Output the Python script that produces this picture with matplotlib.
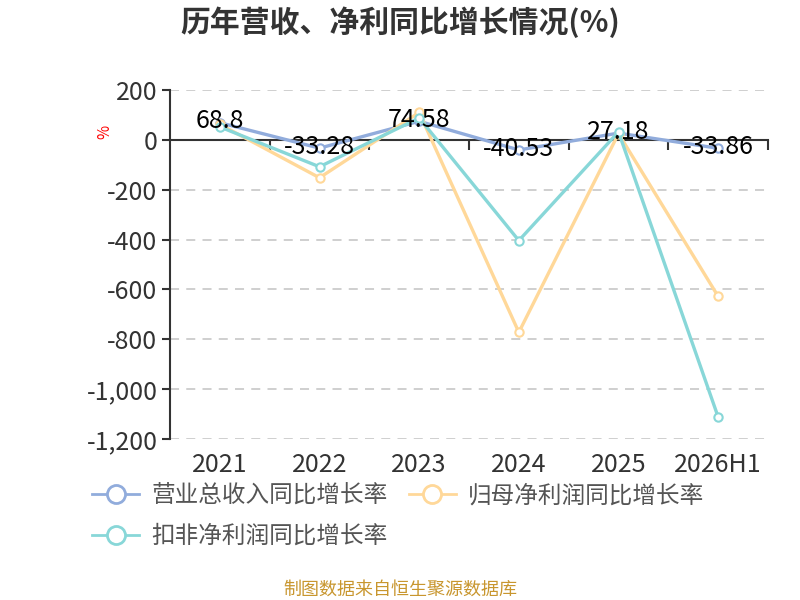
import numpy as np
import matplotlib
matplotlib.use('Agg')
import matplotlib.pyplot as plt
from matplotlib.lines import Line2D
from matplotlib.ticker import FuncFormatter
import matplotlib.transforms as mtransforms

plt.rcParams['font.family'] = ['Noto Sans CJK SC', 'DejaVu Sans']

# data
years = ['2021', '2022', '2023', '2024', '2025', '2026H1']
revenue = [68.8, -33.28, 74.58, -40.53, 27.18, -33.86]
net_profit = [62, -152, 110, -772, 25, -628]
deducted = [52, -108, 88, -404, 32, -1112]
revenue_labels = ['68.8', '-33.28', '74.58', '-40.53', '27.18', '-33.86']

series_names = ['营业总收入同比增长率', '归母净利润同比增长率', '扣非净利润同比增长率']
colors = ['#91ACDC', '#FFD899', '#88D7D8']

fig = plt.figure(figsize=(8, 6), dpi=100)
ax = fig.add_axes([170 / 800, 1 - 439 / 600, 598 / 800, 349 / 600])

x = np.arange(len(years))
for vals, c in zip([revenue, net_profit, deducted], colors):
    ax.plot(x, vals, color=c, lw=2.4, marker='o', markersize=6,
            markerfacecolor='white', markeredgecolor=c, markeredgewidth=1.5, zorder=3)

for xi, v, lab in zip(x, revenue, revenue_labels):
    ax.annotate(lab, (xi, v), xytext=(0, 1), textcoords='offset points',
                ha='center', va='center', fontsize=18, color='#000000', zorder=5)

ax.set_xlim(-0.5, len(years) - 0.5)
ax.set_ylim(-1200, 200)
ax.set_yticks(np.arange(-1200, 201, 200))
ax.yaxis.set_major_formatter(FuncFormatter(lambda v, p: f'{int(v):,}'))
ax.tick_params(axis='y', direction='out', length=6, width=1.5, color='#333333',
               labelsize=18, labelcolor='#333333', pad=3)

for yv in np.arange(-1200, 201, 200):
    if yv != 0:
        ax.axhline(yv, color='#CCCCCC', lw=1.3, ls=(0, (5, 4)), zorder=1)

for s in ['top', 'right']:
    ax.spines[s].set_visible(False)
ax.spines['left'].set_color('#333333')
ax.spines['left'].set_linewidth(1.5)
ax.spines['bottom'].set_position(('data', 0))
ax.spines['bottom'].set_color('#333333')
ax.spines['bottom'].set_linewidth(1.5)
ax.spines['bottom'].set_zorder(2)

ax.set_xticks(np.arange(0.5, len(years), 1.0))
ax.set_xticklabels([])
ax.tick_params(axis='x', direction='out', length=7, width=1.5, color='#333333')

trans = mtransforms.blended_transform_factory(ax.transData, ax.transAxes)
for xi, yr in zip(x, years):
    ax.text(xi, -0.075, yr, transform=trans, ha='center', va='center',
            fontsize=18, color='#333333')

ax.text(-0.109, 0.88, '%', transform=ax.transAxes, rotation=90, color='#FF0000',
        fontsize=11, ha='center', va='center')

fig.text(0.5, 1 - 22 / 600, '历年营收、净利同比增长情况(%)', ha='center', va='center',
         fontsize=21.5, fontweight='bold', color='#333333')

handles = [Line2D([], [], color=c, lw=2, marker='o', markersize=13,
                  markerfacecolor='white', markeredgecolor=c, markeredgewidth=2)
           for c in colors]
order = [0, 2, 1]
fig.legend([handles[i] for i in order], [series_names[i] for i in order],
           loc='upper left', bbox_to_anchor=(71 / 800, 1 - 463 / 600), ncol=2,
           frameon=False, fontsize=17, labelcolor='#555555', handlelength=2.0,
           handletextpad=0.5, columnspacing=0.9, labelspacing=0.75)

fig.text(0.5, 1 - 590 / 600, '制图数据来自恒生聚源数据库', ha='center', va='center',
         fontsize=13, color='#C8962E')

fig.savefig('out.png', dpi=100)
